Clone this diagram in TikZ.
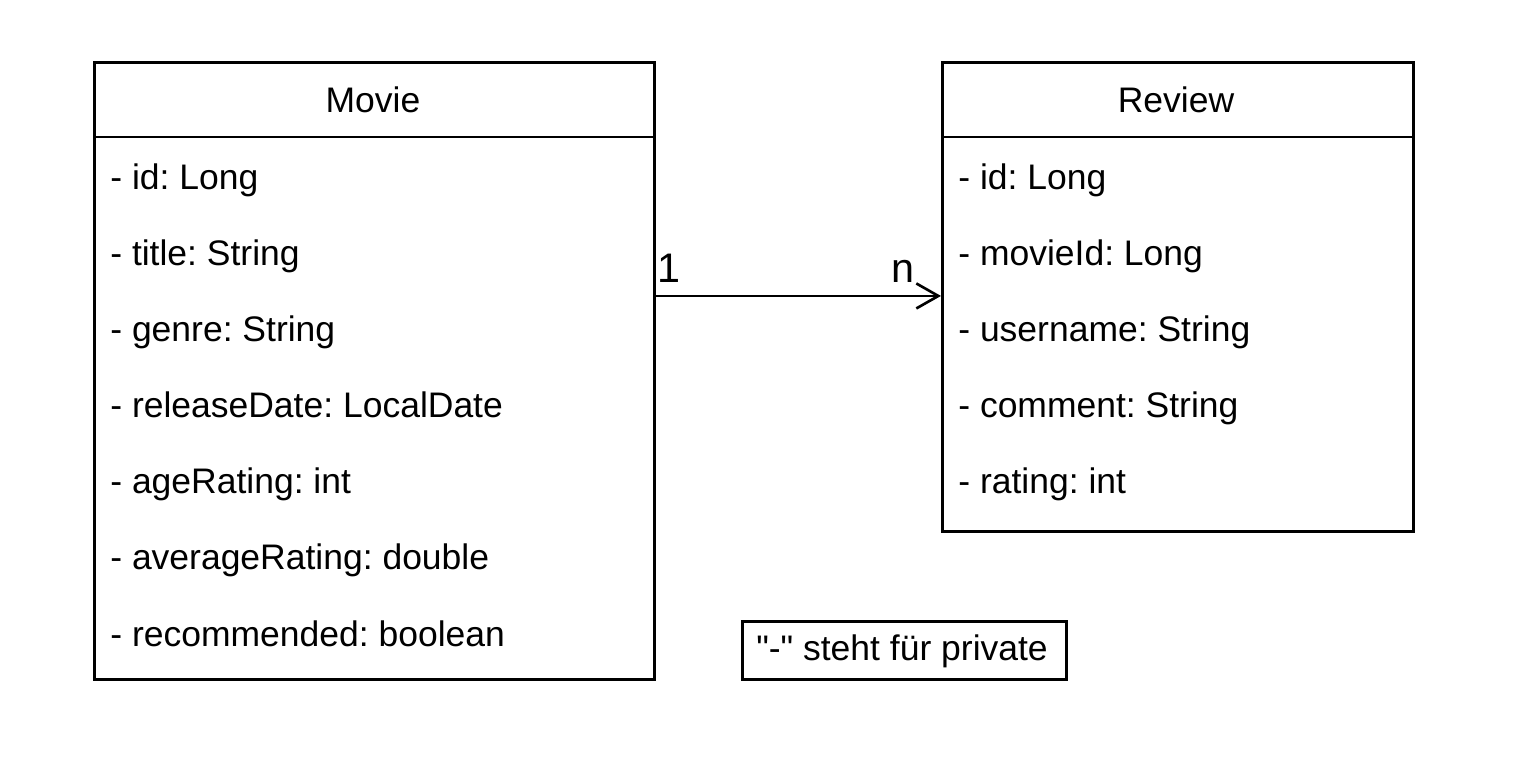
\documentclass[tikz,border=0pt]{standalone}
\usepackage{fontspec}
\setmainfont{Liberation Sans}
\frenchspacing
\usetikzlibrary{arrows.meta}
\usetikzlibrary{positioning}
\tikzset{classbox/.style = {draw, line width = 1.5pt, rectangle, inner sep = 0,
                            anchor = north west}}
\tikzset{attr/.style = {anchor = base west, inner sep = 0,
                        font = \fontsize{20.2}{24}\selectfont}}
\tikzset{mult/.style = {anchor = base, inner sep = 0,
                        font = \fontsize{23.5}{28}\selectfont}}
\tikzset{assoc/.style = {line width = 1.5pt,
                         -{Straight Barb[length=0.44cm, width=0.5cm, line width=1.5pt]}}}

\begin{document}
\begin{tikzpicture}[x = 0.02cm, y = -0.02cm]
      \useasboundingbox (0, 0) rectangle (1515, 764);
      % Movie
      \node (movie) at (93, 61) [classbox, minimum width = 11.2cm, minimum height = 12.34cm] {};
      \draw [line width = 1.5pt] (93, 137) -- (653, 137);
      \node (movietitle) at (373, 112) [mult, font = \fontsize{20.2}{24}\selectfont] {Movie};
      \node (m1) at (110, 189) [attr] {- id: Long};
      \node (m2) at (110, 265) [attr] {- title: String};
      \node (m3) at (110, 341) [attr] {- genre: String};
      \node (m4) at (110, 417) [attr] {- releaseDate: LocalDate};
      \node (m5) at (110, 493) [attr] {- ageRating: int};
      \node (m6) at (110, 569) [attr] {- averageRating: double};
      \node (m7) at (110, 646) [attr] {- recommended: boolean};
      % Review
      \node (review) at (941, 61) [classbox, minimum width = 9.42cm, minimum height = 9.38cm] {};
      \draw [line width = 1.5pt] (941, 137) -- (1412, 137);
      \node (reviewtitle) at (1176, 112) [mult, font = \fontsize{20.2}{24}\selectfont] {Review};
      \node (r1) at (958, 189) [attr] {- id: Long};
      \node (r2) at (958, 265) [attr] {- movieId: Long};
      \node (r3) at (958, 341) [attr] {- username: String};
      \node (r4) at (958, 417) [attr] {- comment: String};
      \node (r5) at (958, 493) [attr] {- rating: int};
      % association
      \draw [assoc] ([yshift = -4.7cm] movie.north east) -- ([yshift = -4.7cm] review.north west);
      \node (one) at (669, 282) [mult] {1};
      \node (many) at (903, 282) [mult] {n};
      % note
      \node (note) at (741, 620) [classbox, minimum width = 6.48cm, minimum height = 1.16cm] {};
      \node (notetext) at (902, 660) [mult, font = \fontsize{20.2}{24}\selectfont] {\textquotedbl-\textquotedbl\ steht für private};
    \end{tikzpicture}
\end{document}
